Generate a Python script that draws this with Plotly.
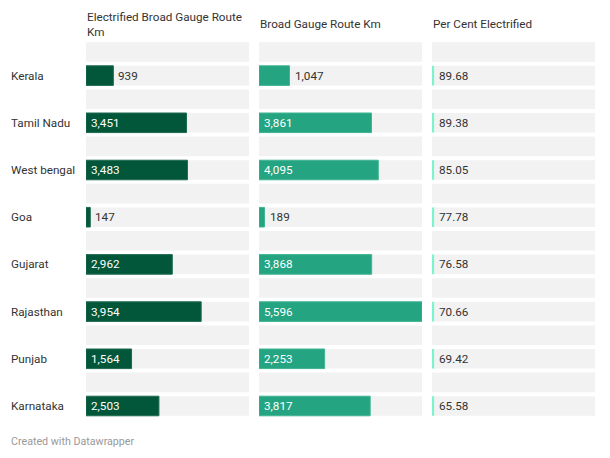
import plotly.graph_objects as go

states = ["Kerala", "Tamil Nadu", "West bengal", "Goa", "Gujarat", "Rajasthan", "Punjab", "Karnataka"]
electrified_km = [939, 3451, 3483, 147, 2962, 3954, 1564, 2503]
broad_gauge_km = [1047, 3861, 4095, 189, 3868, 5596, 2253, 3817]
pct_electrified = [89.68, 89.38, 85.05, 77.78, 76.58, 70.66, 69.42, 65.58]
headers = ["Electrified Broad Gauge Route<br>Km", "Broad Gauge Route Km", "Per Cent Electrified"]

W, H = 610, 458
FONT = "Roboto, 'Open Sans', sans-serif"
FS = 11.7
C_DARK = "#02573a"
C_MID = "#24a481"
C_LINE = "#7ef2cc"
C_BG = "#f2f2f2"
TXT = "#333333"

n = len(states)
rows = list(range(n))
xmax = max(max(electrified_km), max(broad_gauge_km))
BAR_W = 0.415

col_px = [(86, 249), (259, 422), (432, 595)]
domains = [(a / W, b / W) for a, b in col_px]

fig = go.Figure()
axes = ["x", "x2", "x3"]

# background bands (bar rows and empty spacer rows)
band_pos = [r - 0.5 for r in rows] + rows
for i, ax in enumerate(axes):
    rng = xmax if i < 2 else 100
    fig.add_trace(go.Bar(
        y=band_pos, x=[rng] * len(band_pos), orientation="h",
        marker=dict(color=C_BG, line=dict(width=0)), width=BAR_W,
        xaxis=ax, yaxis="y", hoverinfo="skip", showlegend=False))

fig.add_trace(go.Bar(y=rows, x=electrified_km, orientation="h", width=BAR_W,
                     marker=dict(color=C_DARK, line=dict(color="#1f6b50", width=1)),
                     xaxis="x", yaxis="y", showlegend=False))
fig.add_trace(go.Bar(y=rows, x=broad_gauge_km, orientation="h", width=BAR_W,
                     marker=dict(color=C_MID, line=dict(color="#3fb592", width=1)),
                     xaxis="x2", yaxis="y", showlegend=False))
# per cent column: thin accent marker at left of each cell
fig.add_trace(go.Bar(y=rows, x=[1.3] * n, orientation="h", width=BAR_W,
                     marker=dict(color=C_LINE, line=dict(width=0)),
                     xaxis="x3", yaxis="y", showlegend=False))

annotations = []
threshold = 1300
for ax, vals in (("x", electrified_km), ("x2", broad_gauge_km)):
    for r, v in zip(rows, vals):
        inside = v >= threshold
        annotations.append(dict(
            x=0 if inside else v, y=r, xref=ax, yref="y", text=f"{v:,}",
            showarrow=False, xanchor="left", xshift=3,
            font=dict(family=FONT, size=FS, color="white" if inside else TXT)))
for r, v in zip(rows, pct_electrified):
    annotations.append(dict(
        x=0, y=r, xref="x3", yref="y", text=f"{v:.2f}", showarrow=False,
        xanchor="left", xshift=5, font=dict(family=FONT, size=FS, color=TXT)))
for r, s in zip(rows, states):
    annotations.append(dict(
        x=9 / W, y=r, xref="paper", yref="y", text=s, showarrow=False,
        xanchor="left", font=dict(family=FONT, size=FS, color=TXT)))
for (a, b), h in zip(col_px, headers):
    annotations.append(dict(
        x=(a - 1) / W, y=1 - 24 / H, xref="paper", yref="paper", text=h, showarrow=False,
        xanchor="left", yanchor="middle", align="left",
        font=dict(family=FONT, size=FS, color=TXT)))
annotations.append(dict(
    x=9 / W, y=1 - 441 / H, xref="paper", yref="paper", text="Created with Datawrapper",
    showarrow=False, xanchor="left", yanchor="middle",
    font=dict(family=FONT, size=10.7, color="#999999")))

top_px, bot_px = 40.2, 417.8
layout = dict(
    width=W, height=H, margin=dict(l=0, r=0, t=0, b=0),
    paper_bgcolor="white", plot_bgcolor="white", barmode="overlay",
    annotations=annotations, showlegend=False,
    yaxis=dict(range=[7.25, -0.75], domain=[1 - bot_px / H, 1 - top_px / H],
               visible=False, fixedrange=True),
)
for i, ax in enumerate(axes):
    key = "xaxis" if i == 0 else f"xaxis{i+1}"
    layout[key] = dict(domain=list(domains[i]), range=[0, xmax if i < 2 else 100],
                       visible=False, fixedrange=True, anchor="y")
fig.update_layout(**layout)
fig.write_html("out.html", config={"displayModeBar": False},
               post_script="document.body.style.margin='0';document.body.style.padding='0';")
